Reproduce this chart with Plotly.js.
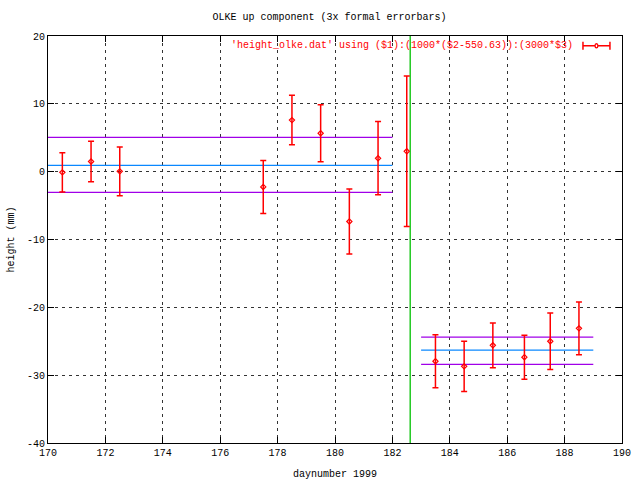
<!DOCTYPE html>
<html>
<head>
<meta charset="utf-8">
<script src="https://cdn.plot.ly/plotly-3.0.1.min.js"></script>
<style>html,body{margin:0;padding:0;background:#fff}#plot{width:640px;height:480px}</style>
</head>
<body>
<div id="plot"></div>
<script>
// daynumber of each solution
const days = [170.5, 171.5, 172.5, 177.5, 178.5, 179.5, 180.5, 181.5, 182.5,
              183.5, 184.5, 185.5, 186.6, 187.5, 188.5];
// height (mm)
const heights = [-0.1, 1.5, 0.05, -2.25, 7.6, 5.66, -7.35, 1.98, 3.0,
                 -27.95, -28.7, -25.6, -27.35, -25.0, -23.1];
// 3x formal error (mm)
const errors = [2.9, 3.0, 3.6, 3.9, 3.65, 4.2, 4.8, 5.4, 11.1,
                3.9, 3.7, 3.3, 3.25, 4.15, 3.9];

// mean / +-sigma levels before and after the event
const beforeSpan = [170, 182];
const beforeMean = 0.94;
const beforeUpper = 5.07;
const beforeLower = -3.04;
const afterSpan = [183, 189];
const afterMean = -26.3;
const afterUpper = -24.4;
const afterLower = -28.4;

// event epoch (vertical marker)
const eventDay = 182.62;
const yRange = [-40, 20];

const xTicks = [170, 172, 174, 176, 178, 180, 182, 184, 186, 188, 190];
const yTicks = [-40, -30, -20, -10, 0, 10, 20];

const legendLabel = "'height_olke.dat' using ($1):(1000*($2-550.63)):(3000*$3)";

const PURPLE = '#a000e8';
const BLUE = '#0a88ff';
const GREEN = '#00c000';
const RED = '#ff0000';
const FONT = 'Liberation Mono, DejaVu Sans Mono, monospace';

function level(span, v, color) {
  return {x: span, y: [v, v], mode: 'lines', line: {color: color, width: 1.3},
          hoverinfo: 'skip', showlegend: false};
}

const traces = [
  level(beforeSpan, beforeUpper, PURPLE),
  level(beforeSpan, beforeMean, BLUE),
  level(beforeSpan, beforeLower, PURPLE),
  level(afterSpan, afterUpper, PURPLE),
  level(afterSpan, afterMean, BLUE),
  level(afterSpan, afterLower, PURPLE),
  {x: [eventDay, eventDay], y: yRange, mode: 'lines', line: {color: GREEN, width: 1.3},
   showlegend: false},
  {x: days, y: heights, mode: 'markers', showlegend: false,
   marker: {symbol: 'diamond-open', size: 4, color: RED, line: {color: RED, width: 1.2}},
   error_y: {type: 'data', array: errors, visible: true, color: RED, thickness: 1.5, width: 3}}
];

const layout = {
  width: 640, height: 480,
  margin: {l: 48, r: 18, t: 36, b: 37},
  paper_bgcolor: '#fff', plot_bgcolor: '#fff',
  font: {family: FONT, size: 10, color: '#000'},
  title: {text: 'OLKE up component (3x formal errorbars)', x: 0.515, xanchor: 'center',
          y: 0.965, yanchor: 'middle', font: {family: FONT, size: 10, color: '#000'}},
  xaxis: {range: [170, 190], tickvals: xTicks, ticktext: xTicks.map(String),
          showline: true, mirror: 'ticks', linecolor: '#000', linewidth: 1,
          ticks: 'inside', ticklen: 6, tickcolor: '#000',
          showgrid: true, gridcolor: '#333', griddash: '3px,4px', gridwidth: 1,
          zeroline: false, tickfont: {family: FONT, size: 10},
          title: {text: 'daynumber 1999', standoff: 11, font: {family: FONT, size: 10}}},
  yaxis: {range: yRange, tickvals: yTicks, ticktext: yTicks.map(String),
          showline: true, mirror: 'ticks', linecolor: '#000', linewidth: 1,
          ticks: 'inside', ticklen: 6, tickcolor: '#000',
          showgrid: true, gridcolor: '#333', griddash: '3px,4px', gridwidth: 1,
          zeroline: false, tickfont: {family: FONT, size: 10},
          title: {text: 'height (mm)', standoff: 10, font: {family: FONT, size: 10}}},
  annotations: [
    {text: legendLabel, xref: 'paper', yref: 'paper', x: 0.918, y: 0.976,
     xanchor: 'right', yanchor: 'middle', showarrow: false,
     font: {family: FONT, size: 10, color: RED}}
  ],
  shapes: [
    {type: 'line', xref: 'paper', yref: 'paper', x0: 0.932, x1: 0.979, y0: 0.976, y1: 0.976,
     line: {color: RED, width: 1.5}},
    {type: 'line', xref: 'paper', yref: 'paper', x0: 0.932, x1: 0.932, y0: 0.966, y1: 0.986,
     line: {color: RED, width: 1.5}},
    {type: 'line', xref: 'paper', yref: 'paper', x0: 0.979, x1: 0.979, y0: 0.966, y1: 0.986,
     line: {color: RED, width: 1.5}},
    {type: 'circle', xref: 'paper', yref: 'paper', x0: 0.953, x1: 0.958, y0: 0.971, y1: 0.981,
     line: {color: RED, width: 1.3}, fillcolor: '#fff'}
  ]
};

Plotly.newPlot('plot', traces, layout, {staticPlot: true, displayModeBar: false});
</script>
</body>
</html>
